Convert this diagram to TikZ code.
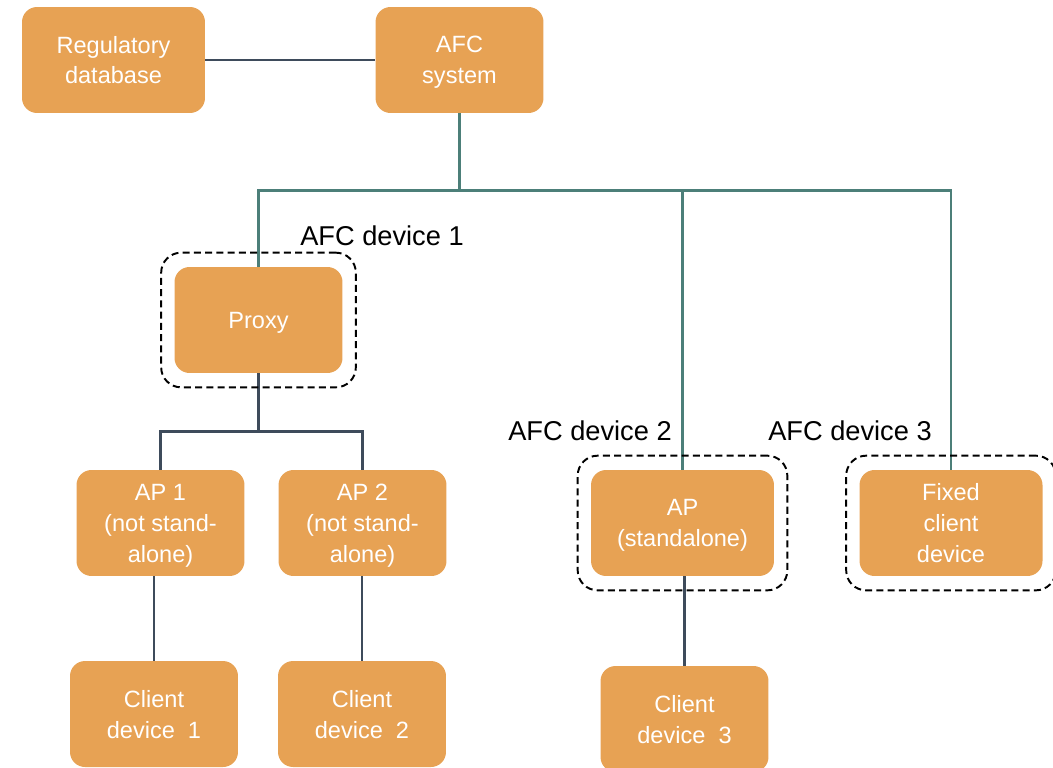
\documentclass[tikz,border=0pt]{standalone}
\usepackage{fontspec}
\setmainfont{Liberation Sans}
\usetikzlibrary{fit}

\definecolor{afcorange}{HTML}{E7A254}
\definecolor{linkgray}{HTML}{3E4B5B}
\definecolor{busgreen}{HTML}{4C7F79}

\tikzset{
  box/.style={fill=afcorange, rounded corners=0.3cm, text=white, align=center,
    inner sep=2pt, minimum width=3.36cm, minimum height=2.12cm, text depth=0pt,
    font=\fontsize{13.4}{17.6}\selectfont},
  widebox/.style={box, minimum width=3.66cm},
  link/.style={draw=linkgray, line width=1.5pt},
  bus/.style={draw=busgreen, line width=1.4pt},
  devbox/.style={draw, line width=1.1pt, dash pattern=on 4pt off 2.4pt,
    rounded corners=0.4cm, inner xsep=0.26cm, inner ysep=0.28cm},
  devlabel/.style={font=\fontsize{15.5}{18}\selectfont}
}

\begin{document}
\begin{tikzpicture}[x=0.02cm,y=-0.02cm]
  \useasboundingbox (0,0) rectangle (1053,767);

  \node[widebox] (regdb) at (113.5,60) {Regulatory\\database};
  \node[box] (afc) at (459.5,60) {AFC\\system};
  \node[box] (proxy) at (258.5,320) {Proxy};

  \node[box] (ap1) at (160.5,523) {AP 1\\(not stand-\\alone)};
  \node[box] (ap2) at (362.5,523) {AP 2\\(not stand-\\alone)};
  \node[widebox] (ap) at (682.5,523) {AP\\(standalone)};
  \node[widebox] (fixed) at (951,523) {Fixed\\client\\device};

  \node[box] (client1) at (154,714) {Client\\device\ \ 1};
  \node[box] (client2) at (362,714) {Client\\device\ \ 2};
  \node[box] (client3) at (684.5,719) {Client\\device\ \ 3};

  % connectors
  \draw[link] (regdb) -- (afc);
  \draw[bus] (afc.south) -- ++(0,77) coordinate (bus) -| (proxy.north);
  \draw[bus] (bus) -| (ap.north);
  \draw[bus] (bus) -| (fixed.north);
  \draw[link] (proxy.south) -- ++(0,58) coordinate (split) -| (ap1.north);
  \draw[link] (split) -| (ap2.north);
  \draw[link] (ap1.south -| client1.north) -- (client1.north);
  \draw[link] (ap2.south -| client2.north) -- (client2.north);
  \draw[link] (ap.south -| client3.north) -- (client3.north);

  % AFC devices
  \node[devbox, fit=(proxy)] (dev1) {};
  \node[devbox, fit=(ap)] (dev2) {};
  \node[devbox, fit=(fixed)] (dev3) {};
  \node[devlabel] (dev1label) at (382,236) {AFC device 1};
  \node[devlabel] (dev2label) at (590,431) {AFC device 2};
  \node[devlabel] (dev3label) at (850,431) {AFC device 3};
\end{tikzpicture}
\end{document}
